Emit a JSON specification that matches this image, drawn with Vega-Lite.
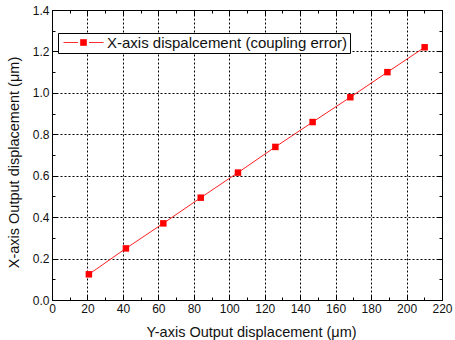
{
  "$schema": "https://vega.github.io/schema/vega-lite/v6.json",
  "width": 390,
  "height": 290,
  "autosize": {"type": "none"},
  "padding": {"left": 52, "top": 10, "right": 13, "bottom": 40},
  "background": "white",
  "config": {
    "font": "Liberation Sans",
    "view": {"stroke": "black", "strokeWidth": 1},
    "axis": {
      "domainColor": "black",
      "tickColor": "black",
      "labelColor": "#111",
      "titleColor": "#111",
      "labelFont": "Liberation Sans",
      "titleFont": "Liberation Sans",
      "labelFontSize": 12,
      "titleFontSize": 14.5,
      "titleFontWeight": "normal"
    }
  },
  "data": {
    "values": [
      {"x": 20.8, "y": 0.124, "series": "X-axis dispalcement (coupling error)"},
      {"x": 41.7, "y": 0.249, "series": "X-axis dispalcement (coupling error)"},
      {"x": 62.8, "y": 0.370, "series": "X-axis dispalcement (coupling error)"},
      {"x": 83.9, "y": 0.494, "series": "X-axis dispalcement (coupling error)"},
      {"x": 104.9, "y": 0.615, "series": "X-axis dispalcement (coupling error)"},
      {"x": 126.0, "y": 0.739, "series": "X-axis dispalcement (coupling error)"},
      {"x": 147.0, "y": 0.859, "series": "X-axis dispalcement (coupling error)"},
      {"x": 168.3, "y": 0.979, "series": "X-axis dispalcement (coupling error)"},
      {"x": 189.2, "y": 1.100, "series": "X-axis dispalcement (coupling error)"},
      {"x": 210.2, "y": 1.220, "series": "X-axis dispalcement (coupling error)"}
    ]
  },
  "layer": [
    {
      "mark": {"type": "line", "strokeWidth": 1, "color": "#ff2020"},
      "encoding": {
        "x": {
          "field": "x", "type": "quantitative",
          "scale": {"domain": [0, 220], "nice": false, "zero": false},
          "axis": {
            "orient": "bottom",
            "title": "Y-axis Output displacement (μm)",
            "values": [0, 20, 40, 60, 80, 100, 120, 140, 160, 180, 200, 220],
            "format": "d",
            "grid": true, "gridColor": "#000", "gridDash": [2, 2], "gridOpacity": 1,
            "tickSize": -5, "labelPadding": 8, "titlePadding": 11, "titleX": 199,
            "labelFlush": false
          }
        },
        "y": {
          "field": "y", "type": "quantitative",
          "scale": {"domain": [0, 1.4], "nice": false, "zero": false},
          "axis": {
            "orient": "left",
            "title": "X-axis Output displacement (μm)",
            "values": [0, 0.2, 0.4, 0.6, 0.8, 1.0, 1.2, 1.4],
            "format": ".1f",
            "grid": true, "gridColor": "#000", "gridDash": [2, 2], "gridOpacity": 1,
            "tickSize": -5, "labelPadding": 8, "titlePadding": 11, "titleY": 152,
            "labelFlush": false
          }
        }
      }
    },
    {
      "mark": {"type": "point", "shape": "square", "filled": true, "opacity": 1, "size": 42},
      "encoding": {
        "x": {"field": "x", "type": "quantitative", "scale": {"domain": [0, 220], "nice": false, "zero": false}, "axis": null},
        "y": {"field": "y", "type": "quantitative", "scale": {"domain": [0, 1.4], "nice": false, "zero": false}, "axis": null},
        "color": {
          "field": "series", "type": "nominal",
          "scale": {"range": ["#ff0000"]},
          "legend": {
            "title": null,
            "orient": "none",
            "legendX": 6,
            "legendY": 23,
            "strokeColor": "black",
            "fillColor": "white",
            "padding": 2,
            "symbolType": "M-2.857,0H-0.79M0.79,0H2.857M-0.43,-0.43H0.43V0.43H-0.43Z",
            "symbolSize": 196,
            "symbolOffset": 16,
            "symbolStrokeWidth": 1,
            "symbolStrokeColor": "#ff3030",
            "symbolFillColor": "#ff0000",
            "symbolOpacity": 1,
            "labelFontSize": 15,
            "labelFont": "Liberation Sans",
            "labelColor": "#111",
            "labelOffset": 16,
            "labelLimit": 0
          }
        }
      }
    },
    {
      "mark": {"type": "point", "opacity": 0},
      "encoding": {
        "x": {
          "field": "x", "type": "quantitative",
          "scale": {"domain": [0, 220], "nice": false, "zero": false},
          "axis": {"orient": "top", "title": null, "labels": false, "grid": false, "tickSize": -5,
            "values": [0, 20, 40, 60, 80, 100, 120, 140, 160, 180, 200, 220]}
        },
        "y": {
          "field": "y", "type": "quantitative",
          "scale": {"domain": [0, 1.4], "nice": false, "zero": false},
          "axis": {"orient": "right", "title": null, "labels": false, "grid": false, "tickSize": -5,
            "values": [0, 0.2, 0.4, 0.6, 0.8, 1.0, 1.2, 1.4]}
        }
      }
    },
    {
      "mark": {"type": "point", "opacity": 0},
      "encoding": {
        "x": {
          "field": "x", "type": "quantitative",
          "scale": {"domain": [0, 220], "nice": false, "zero": false},
          "axis": {"orient": "bottom", "title": null, "labels": false, "grid": false, "domain": false, "tickSize": -3,
            "values": [10, 30, 50, 70, 90, 110, 130, 150, 170, 190, 210]}
        },
        "y": {
          "field": "y", "type": "quantitative",
          "scale": {"domain": [0, 1.4], "nice": false, "zero": false},
          "axis": {"orient": "left", "title": null, "labels": false, "grid": false, "domain": false, "tickSize": -3,
            "values": [0.1, 0.3, 0.5, 0.7, 0.9, 1.1, 1.3]}
        }
      }
    },
    {
      "mark": {"type": "point", "opacity": 0},
      "encoding": {
        "x": {
          "field": "x", "type": "quantitative",
          "scale": {"domain": [0, 220], "nice": false, "zero": false},
          "axis": {"orient": "top", "title": null, "labels": false, "grid": false, "domain": false, "tickSize": -3,
            "values": [10, 30, 50, 70, 90, 110, 130, 150, 170, 190, 210]}
        },
        "y": {
          "field": "y", "type": "quantitative",
          "scale": {"domain": [0, 1.4], "nice": false, "zero": false},
          "axis": {"orient": "right", "title": null, "labels": false, "grid": false, "domain": false, "tickSize": -3,
            "values": [0.1, 0.3, 0.5, 0.7, 0.9, 1.1, 1.3]}
        }
      }
    }
  ],
  "resolve": {"axis": {"x": "independent", "y": "independent"}}
}
